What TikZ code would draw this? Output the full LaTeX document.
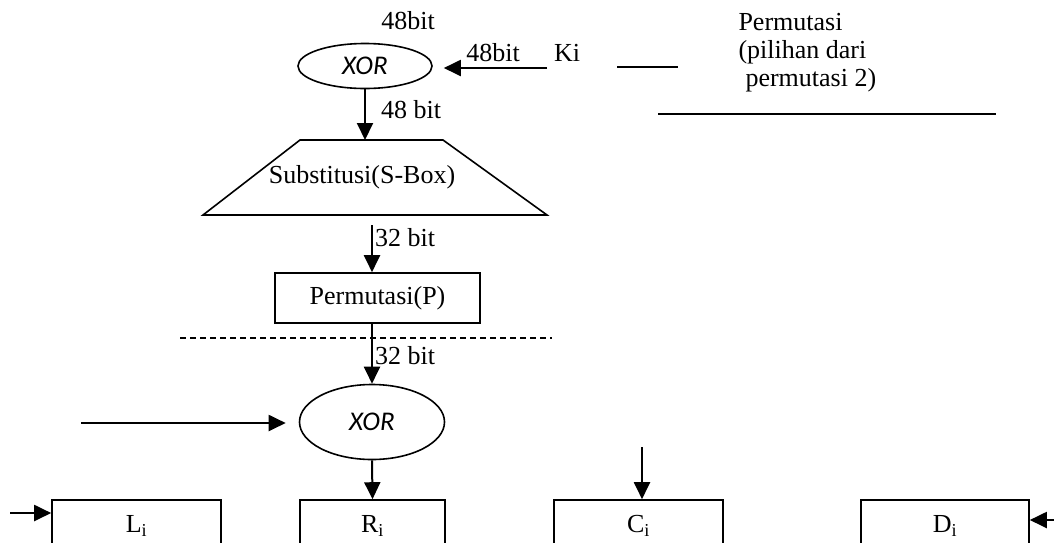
\documentclass[tikz,border=0pt]{standalone}
\usepackage{fontspec}
\setmainfont{Liberation Serif}
\newfontfamily\xorfont{Carlito}
\usetikzlibrary{positioning,arrows.meta,shapes.geometric}

\begin{document}
\begin{tikzpicture}
        [ x = 1pt, y = -1pt
        , font = \fontsize{26}{28}\selectfont
        , op/.style =
          { draw, ellipse, line width=1.6pt, inner sep=0pt
          , font=\fontsize{27}{28}\selectfont\xorfont\itshape }
        , blok/.style =
          { draw, rectangle, line width=1.6pt, inner sep=0pt }
        , arrow/.style =
          { -{Triangle[length=17pt,width=16pt]}, line width=2pt }
        , plain/.style =
          { line width=2pt }
        ]
        \useasboundingbox (0,0) rectangle (1054,542);

        % putaran atas
        \node [op, minimum width=134pt, minimum height=45pt] (xorA) at (365,66) {XOR};
        \node (topbit) at (408,21) {48bit};
        \node (ki) at (567,53) {Ki};
        \coordinate (kiin) at (547,68);
        \node (kibit) at (493,53) {48bit};
        \coordinate (sboxTL) at (300,140);
        \coordinate (sboxTR) at (443,140);
        \coordinate (sboxBR) at (547,215);
        \coordinate (sboxBL) at (203,215);
        \node (sbox) at (362,177) {Substitusi(S-Box)};
        \node [blok, minimum width=205pt, minimum height=50pt] (pbox) at (377.5,298) {Permutasi(P)};
        \node (bitA) at (411,110) {48 bit};
        \node (bitB) at (405,238) {32 bit};
        \node (bitC) at (405,356) {32 bit};

        % permutasi kunci
        \node [align=left, anchor=west] (pc2) at (735,53)
              {Permutasi\\(pilihan dari\\\hspace{7pt}permutasi 2)};
        \coordinate (garisA1) at (617,67);
        \coordinate (garisA2) at (678,67);
        \coordinate (garisB1) at (658,114);
        \coordinate (garisB2) at (996,114);

        % garis putus-putus
        \coordinate (dash1) at (180,338);
        \coordinate (dash2) at (552,338);

        % putaran bawah
        \node [op, minimum width=145pt, minimum height=75pt] (xorB) at (372,422) {XOR};
        \coordinate (xin) at (81,423);
        \node [blok, minimum width=169pt, minimum height=52pt] (lbox) at (136.5,526) {L\textsubscript{i}};
        \node [blok, minimum width=145pt, minimum height=52pt] (rbox) at (372.5,526) {R\textsubscript{i}};
        \node [blok, minimum width=169pt, minimum height=52pt] (cbox) at (638.5,526) {C\textsubscript{i}};
        \node [blok, minimum width=168pt, minimum height=52pt] (dbox) at (945,526) {D\textsubscript{i}};
        \coordinate (lin) at (10,513);
        \coordinate (cin) at (642,447);
        \coordinate (din) at (1054,520);

        \draw [line width=1.6pt, line join=miter] (sboxTL) -- (sboxTR) -- (sboxBR) -- (sboxBL) -- cycle;
        \draw [arrow, shorten >=11pt] (kiin) -- (kiin -| xorA.east);
        \draw [arrow] (xorA.south) -- (xorA.south |- sboxTL);
        \draw [arrow, shorten <=10pt] (sboxBL -| xorB.north) -- (xorB.north |- pbox.north);
        \draw [line width=2pt] (xorB.north |- pbox.south) -- (xorB.north |- dash1);
        \draw [arrow] (xorB.north |- dash1) -- (xorB.north);
        \draw [plain] (garisA1) -- (garisA2);
        \draw [plain] (garisB1) -- (garisB2);
        \draw [line width=1.3pt, dash pattern=on 6pt off 4pt] (dash1) -- (dash2);
        \draw [arrow, shorten >=13pt] (xin) -- (xin -| xorB.west);
        \draw [arrow] (xorB.south) -- (rbox.north);
        \draw [arrow] (lin) -- (lin -| lbox.west);
        \draw [arrow] (cin) -- (cin |- cbox.north);
        \draw [arrow] (din) -- (din -| dbox.east);
\end{tikzpicture}
\end{document}
